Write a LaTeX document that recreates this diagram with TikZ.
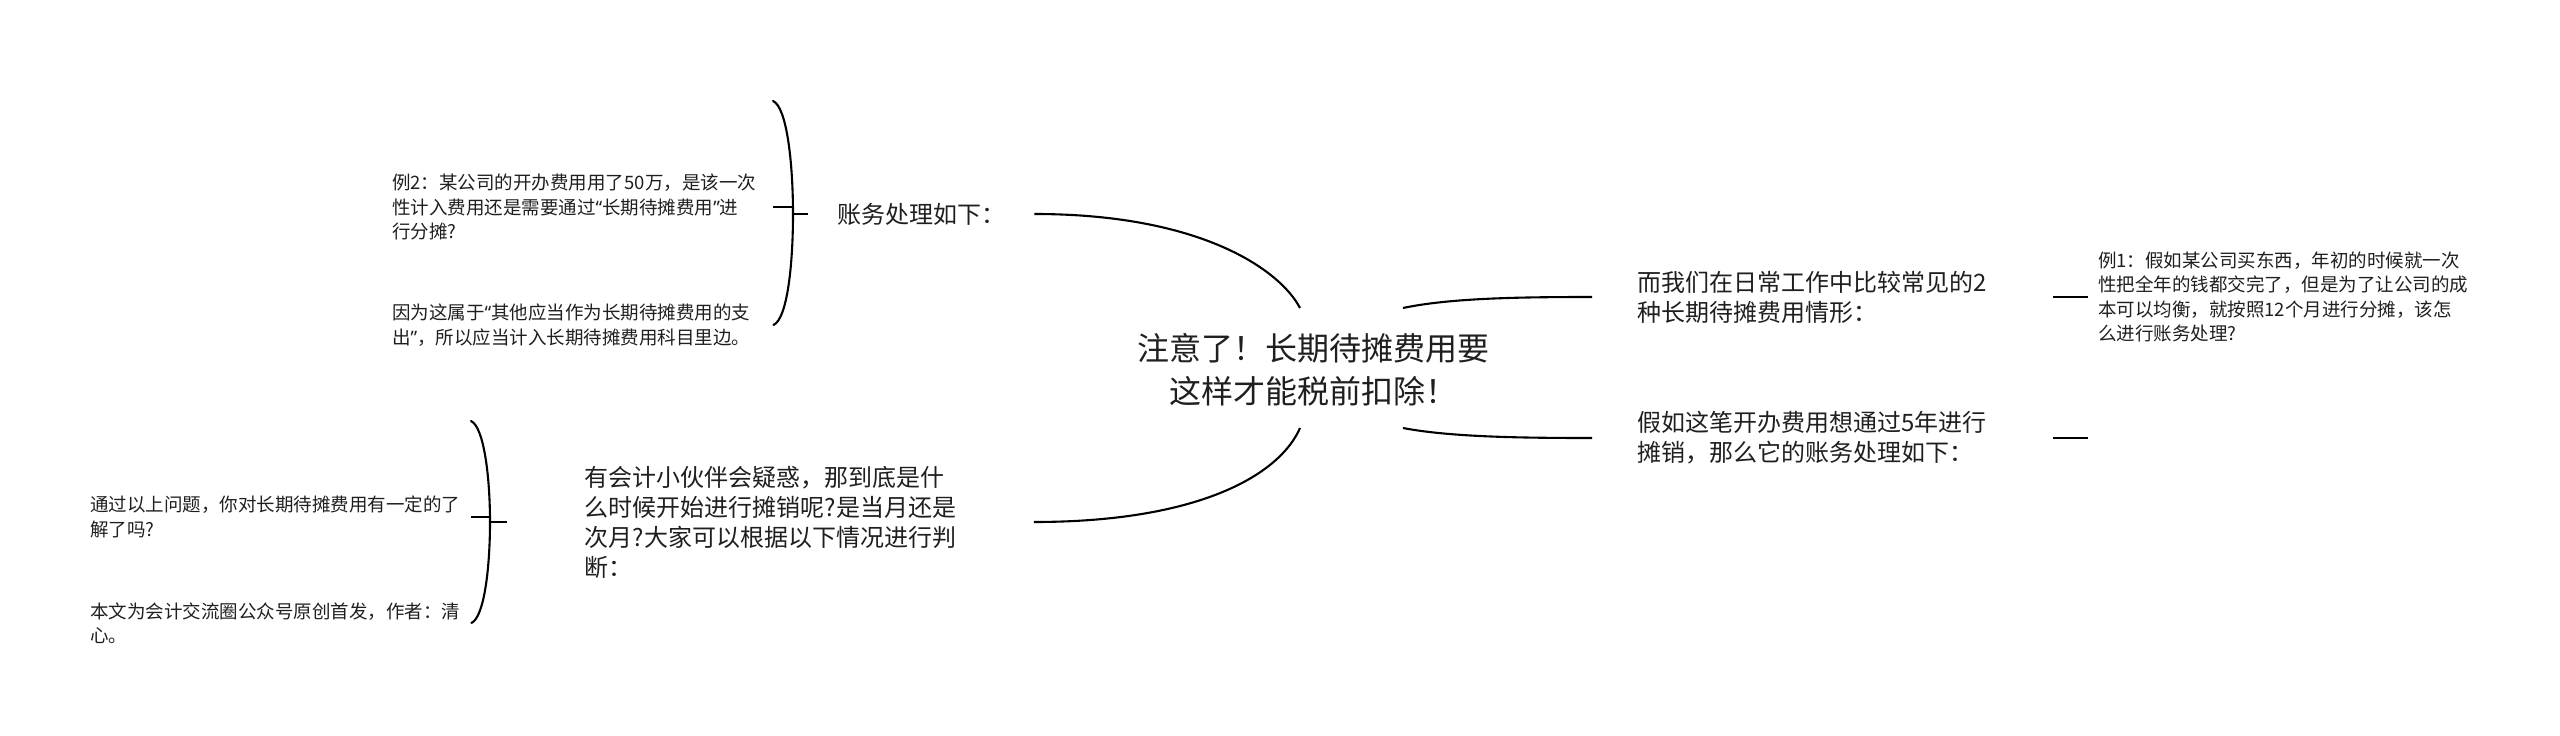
\documentclass[tikz,border=0pt]{standalone}
\usepackage{fontspec}
\setmainfont{Noto Sans CJK SC}
\newfontfamily\quotefont{Noto Sans}
\usepackage{tikz}
\usetikzlibrary{calc}

\begin{document}
\begin{tikzpicture}[x=1pt,y=-1pt,
  every node/.style={text=black!88, inner ysep=0pt},
  rootnode/.style={font=\fontsize{32}{43}\selectfont, align=center, inner sep=0pt},
  topic/.style={font=\fontsize{24}{30}\selectfont, align=left},
  leaf/.style={font=\fontsize{18.5}{24.3}\selectfont, align=left, inner xsep=6pt},
  link/.style={line width=2.1pt},
  brace/.style={line width=2.1pt, line cap=round}]
 \useasboundingbox (0,0) rectangle (2560,736);
 \node[rootnode] (root) at (1313,370) {注意了！长期待摊费用要\\这样才能税前扣除！};
 \coordinate (rUL) at ($(root)+(-13,-62)$);
 \coordinate (rLL) at ($(root)+(-13,58)$);
 \coordinate (rUR) at ($(root)+(90,-62)$);
 \coordinate (rLR) at ($(root)+(90,58)$);

 \node[topic, anchor=west, inner xsep=29pt] (acct) at (808,214) {账务处理如下：};
 \node[topic, anchor=west, inner xsep=77.5pt] (when) at (507,522)
   {有会计小伙伴会疑惑，那到底是什\\么时候开始进行摊销呢?是当月还是\\次月?大家可以根据以下情况进行判\\断：};
 \node[topic, anchor=west, inner xsep=45pt, text width=371pt] (cases) at (1592,297)
   {而我们在日常工作中比较常见的2\\种长期待摊费用情形：};
 \node[topic, anchor=west, inner xsep=45pt, text width=371pt] (five) at (1592,438)
   {假如这笔开办费用想通过5年进行\\摊销，那么它的账务处理如下：};

 \node[leaf, anchor=west, text width=375pt] (ex2) at (386,207)
   {例2：某公司的开办费用用了50万，是该一次\\性计入费用还是需要通过{\quotefont “}长期待摊费用{\quotefont ”}进\\行分摊?};
 \node[leaf, anchor=west, text width=375pt] (reason) at (386,325)
   {因为这属于{\quotefont “}其他应当作为长期待摊费用的支\\出{\quotefont ”}，所以应当计入长期待摊费用科目里边。};
 \node[leaf, anchor=west, text width=375pt] (recap) at (84,517)
   {通过以上问题，你对长期待摊费用有一定的了\\解了吗?};
 \node[leaf, anchor=west, text width=375pt] (credit) at (84,623)
   {本文为会计交流圈公众号原创首发，作者：清\\心。};
 \node[leaf, anchor=west, inner xsep=10pt] (ex1) at (2088,297)
   {例1：假如某公司买东西，年初的时候就一次\\性把全年的钱都交完了，但是为了让公司的成\\本可以均衡，就按照12个月进行分摊，该怎\\么进行账务处理?};

 \draw[link] (rUL) .. controls +(-20,-38) and +(167,0) .. (acct.east);
 \draw[link] (rLL) .. controls +(-20,46) and +(167,0) .. (when.east);
 \draw[link] (rUR) .. controls +(47,-10) and +(-72,0) .. (cases.west);
 \draw[link] (rLR) .. controls +(47,9) and +(-72,0) .. (five.west);

 \coordinate (s1) at ($(acct.west)+(-15,0)$);
 \coordinate (t1) at ($(s1)+(-20,-113)$);
 \draw[brace] (t1) .. controls +(14,6) and +(0,-50) .. (s1) .. controls +(0,50) and +(14,-6) .. (reason.east);
 \draw[link] (ex2.east) -- (ex2.east -| s1);
 \draw[link] (s1) -- (acct.west);

 \coordinate (s2) at ($(when.west)+(-17,0)$);
 \coordinate (t2) at ($(s2)+(-19,-101)$);
 \draw[brace] (t2) .. controls +(13,6) and +(0,-45) .. (s2) .. controls +(0,45) and +(13,-6) .. (credit.east);
 \draw[link] (recap.east) -- (recap.east -| s2);
 \draw[link] (s2) -- (when.west);

 \coordinate (fiveend) at ($(five.east)+(35,0)$);
 \draw[link] (cases.east) -- (ex1.west);
 \draw[link] (five.east) -- (fiveend);
\end{tikzpicture}
\end{document}
